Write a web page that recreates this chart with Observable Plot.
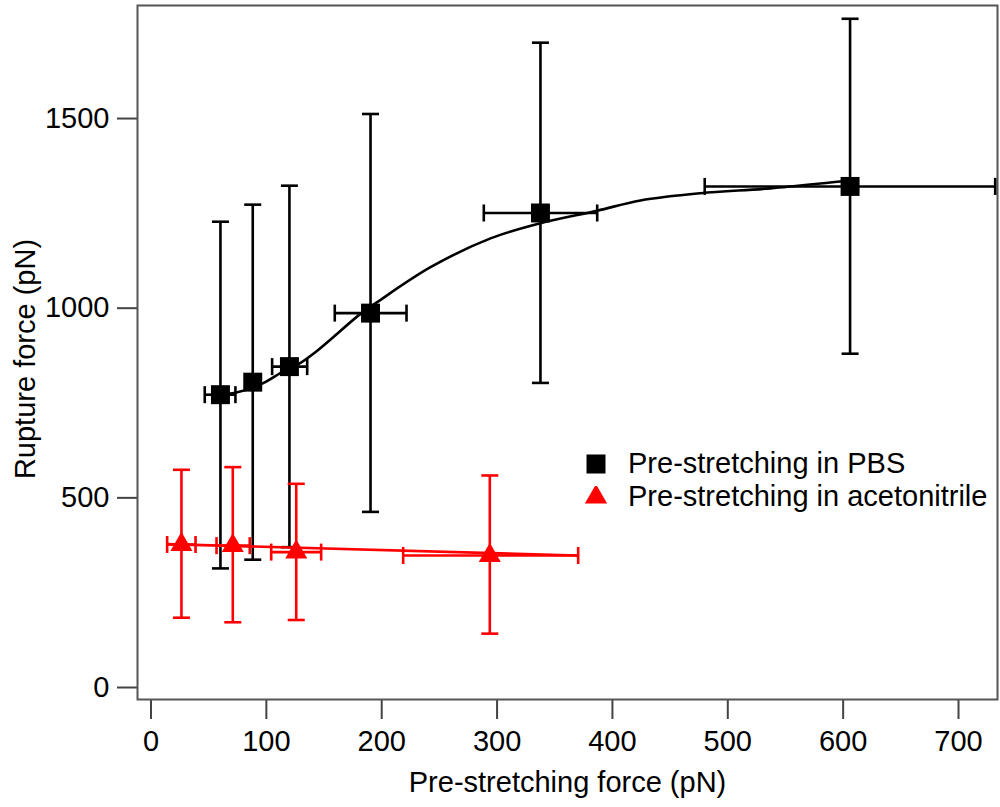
<!DOCTYPE html>
<html>
<head>
<meta charset="utf-8">
<script src="https://cdn.jsdelivr.net/npm/d3@7"></script>
<script src="https://cdn.jsdelivr.net/npm/@observablehq/plot@0.6"></script>
<style>
  html, body { margin: 0; padding: 0; background: #fff; }
  #wrap { position: relative; width: 1000px; height: 807px; font-family: "Liberation Sans", Arial, sans-serif; }
  #legend { position: absolute; left: 585px; top: 447px; font-size: 29px; color: #000; line-height: 33px; }
  #legend .row { display: flex; align-items: center; white-space: nowrap; }
  #legend svg { margin-right: 21px; }
  #ytitle { position: absolute; left: -125px; top: 342px; width: 300px; height: 34px; line-height: 34px;
            text-align: center; font-size: 29px; color: #000; white-space: nowrap; transform: rotate(-90deg); }
</style>
</head>
<body>
<div id="wrap"></div>
<script>
// Pre-stretching in PBS (black squares)
const pbsX    = [60.2, 88.2, 120, 190.3, 337.6, 606];
const pbsY    = [772, 805, 846, 987, 1251, 1321];
const pbsYLo  = [314, 337, 370, 463, 803, 880];
const pbsYHi  = [1228, 1273, 1323, 1512, 1700, 1763];
const pbsXLo  = [46.6, null, 105, 159.3, 288.5, 480];
const pbsXHi  = [73.2, null, 135.4, 221.5, 386.8, 731.8];

// Pre-stretching in acetonitrile (red triangles)
const acnX    = [26.4, 70.9, 125.9, 293.7];
const acnY    = [377, 374, 357, 348];
const acnYLo  = [184, 172, 178, 142];
const acnYHi  = [574, 581, 537, 559];
const acnXLo  = [14, 56.8, 104.2, 218.6];
const acnXHi  = [38.6, 85.6, 147.5, 370.3];

// Fit curves
const fitPbsX = [60.2, 73.2, 96.4, 115.1, 128.1, 144.1, 181.6, 196.1, 242.3, 294.3, 337.6, 386.8, 424.3, 476.3, 537, 597.7, 606];
const fitPbsY = [772, 777, 801, 834, 853, 888, 985, 1016, 1108, 1184, 1224, 1257, 1284, 1303, 1316, 1334, 1336];
const fitAcnX = [14, 370];
const fitAcnY = [378, 348];

const xTicks = [0, 100, 200, 300, 400, 500, 600, 700];
const yTicks = [0, 500, 1000, 1500];

const xTitle = "Pre-stretching force (pN)";
const yTitle = "Rupture force (pN)";
const legendItems = ["Pre-stretching in PBS", "Pre-stretching in acetonitrile"];
const colors = ["#000000", "#ff0000"];

const pbs = pbsX.map((x, i) => ({x, y: pbsY[i], ylo: pbsYLo[i], yhi: pbsYHi[i], xlo: pbsXLo[i], xhi: pbsXHi[i]}));
const acn = acnX.map((x, i) => ({x, y: acnY[i], ylo: acnYLo[i], yhi: acnYHi[i], xlo: acnXLo[i], xhi: acnXHi[i]}));
const fitPbs = fitPbsX.map((x, i) => ({x, y: fitPbsY[i]}));
const fitAcn = fitAcnX.map((x, i) => ({x, y: fitAcnY[i]}));

const hcap = {draw(ctx, size) { const w = Math.sqrt(size) / 2; ctx.moveTo(-w, 0); ctx.lineTo(w, 0); }};
const vcap = {draw(ctx, size) { const w = Math.sqrt(size) / 2; ctx.moveTo(0, -w); ctx.lineTo(0, w); }};

function errorMarks(data, color) {
  const hx = data.filter(d => d.xlo != null);
  return [
    Plot.ruleX(data, {x: "x", y1: "ylo", y2: "yhi", stroke: color, strokeWidth: 2.6}),
    Plot.dot(data, {x: "x", y: "ylo", symbol: hcap, r: 9.6, stroke: color, strokeWidth: 2.6, fill: "none"}),
    Plot.dot(data, {x: "x", y: "yhi", symbol: hcap, r: 9.6, stroke: color, strokeWidth: 2.6, fill: "none"}),
    Plot.ruleY(hx, {y: "y", x1: "xlo", x2: "xhi", stroke: color, strokeWidth: 2.6}),
    Plot.dot(hx, {x: "xlo", y: "y", symbol: vcap, r: 9.6, stroke: color, strokeWidth: 2.6, fill: "none"}),
    Plot.dot(hx, {x: "xhi", y: "y", symbol: vcap, r: 9.6, stroke: color, strokeWidth: 2.6, fill: "none"})
  ];
}

const chart = Plot.plot({
  width: 1000,
  height: 807,
  marginLeft: 137,
  marginRight: 3,
  marginTop: 5,
  marginBottom: 108,
  style: {fontFamily: "Liberation Sans, Arial, sans-serif", background: "#fff", color: "#000"},
  x: {domain: [-11.7, 733.8]},
  y: {domain: [-31.6, 1798]},
  marks: [
    Plot.axisX({ticks: xTicks, tickSize: 20, tickPadding: 11, fontSize: 29, stroke: "#444", strokeWidth: 2, fill: "#000", label: null, tickFormat: d => String(d)}),
    Plot.axisY({ticks: yTicks, tickSize: 20, tickPadding: 8, fontSize: 29, stroke: "#444", strokeWidth: 2, fill: "#000", label: null, tickFormat: d => String(d)}),
    Plot.frame({stroke: "#555", strokeWidth: 2}),
    ...errorMarks(pbs, colors[0]),
    Plot.line(fitPbs, {x: "x", y: "y", stroke: colors[0], strokeWidth: 2.6, curve: "catmull-rom"}),
    Plot.dot(pbs, {x: "x", y: "y", symbol: "square", r: 10.7, fill: colors[0]}),
    ...errorMarks(acn, colors[1]),
    Plot.line(fitAcn, {x: "x", y: "y", stroke: colors[1], strokeWidth: 2.6}),
    Plot.dot(acn, {x: "x", y: "y", symbol: "triangle", r: 8.2, fill: colors[1]}),
    Plot.text([xTitle], {frameAnchor: "bottom", dy: 92, fontSize: 29, fill: "#000"})
  ]
});

const wrap = document.getElementById("wrap");
wrap.appendChild(chart);

const yt = document.createElement("div");
yt.id = "ytitle";
yt.textContent = yTitle;
wrap.appendChild(yt);

const legend = document.createElement("div");
legend.id = "legend";
legendItems.forEach((label, i) => {
  const row = document.createElement("div");
  row.className = "row";
  const sym = i === 0
    ? `<svg width="22" height="22" viewBox="-11 -11 22 22"><rect x="-9.5" y="-9.5" width="19" height="19" fill="${colors[i]}"/></svg>`
    : `<svg width="22" height="22" viewBox="-11 -11 22 22"><path d="${d3.symbol(d3.symbolTriangle, Math.PI * 8.2 * 8.2)()}" fill="${colors[i]}"/></svg>`;
  row.innerHTML = sym + `<span>${label}</span>`;
  legend.appendChild(row);
});
wrap.appendChild(legend);
</script>
</body>
</html>
